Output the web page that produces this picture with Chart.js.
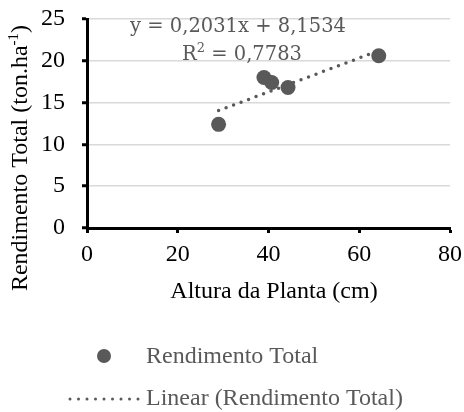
<!DOCTYPE html>
<html>
<head>
<meta charset="utf-8">
<script src="https://cdn.jsdelivr.net/npm/chart.js@4.4.1/dist/chart.umd.min.js"></script>
<style>
    html, body { margin: 0; padding: 0; background: #fff; }
    #wrap { position: relative; width: 464px; height: 412px; }
</style>
</head>
<body>
<div id="wrap"><canvas id="chart" width="464" height="412"></canvas></div>
<script>
// Altura da planta (cm) vs rendimento total (ton/ha)
const alturaPlanta = [29.0, 39.0, 40.7, 44.3, 64.3];
const rendimentoTotal = [12.4, 18.0, 17.4, 16.8, 20.6];
const xTicks = [0, 20, 40, 60, 80];
const yTicks = [0, 5, 10, 15, 20, 25];

// linear trendline as stated in the equation label
const slope = 0.2031;
const intercept = 8.1534;
const rSquared = 0.7783;

const gray = '#595959';
const serif = '"Liberation Serif", "Times New Roman", serif';
const eqFont = '"DejaVu Serif", serif';

const xMin = Math.min(...alturaPlanta);
const xMax = Math.max(...alturaPlanta);
const trendData = [xMin, xMax].map(x => ({ x: x, y: slope * x + intercept }));

const fmt = (v, d) => v.toFixed(d).replace('.', ',');

// draws a run of [text, size, rise] pieces centred on cx
function drawRuns(ctx, runs, family, cx, y) {
    const widths = runs.map(([t, size]) => {
        ctx.font = size + 'px ' + family;
        return ctx.measureText(t).width;
    });
    let x = cx - widths.reduce((a, b) => a + b, 0) / 2;
    ctx.textAlign = 'left';
    runs.forEach(([t, size, rise], i) => {
        ctx.font = size + 'px ' + family;
        ctx.fillText(t, x, y - rise);
        x += widths[i];
    });
}

// axis titles, equation and legend drawn on top of the chart
const decorations = {
    id: 'decorations',
    afterDraw(chart) {
        const ctx = chart.ctx;
        ctx.save();
        ctx.textBaseline = 'alphabetic';

        // trendline equation
        ctx.fillStyle = gray;
        drawRuns(ctx, [['y = ' + fmt(slope, 4) + 'x + ' + fmt(intercept, 4), 19.5, 0]], eqFont, 238, 32);
        drawRuns(ctx, [['R', 19.5, 0], ['2', 13, 8], [' = ' + fmt(rSquared, 4), 19.5, 0]], eqFont, 242, 60);

        // x axis title
        ctx.fillStyle = '#000';
        drawRuns(ctx, [['Altura da Planta (cm)', 24, 0]], serif, 274, 298);

        // y axis title with superscript
        ctx.save();
        ctx.translate(27, 158);
        ctx.rotate(-Math.PI / 2);
        drawRuns(ctx, [['Rendimento Total (ton.ha', 24, 0], ['-1', 15, 9], [')', 24, 0]], serif, 0, 0);
        ctx.restore();

        // legend
        ctx.fillStyle = gray;
        ctx.beginPath();
        ctx.arc(104, 356, 7, 0, Math.PI * 2);
        ctx.fill();

        ctx.strokeStyle = gray;
        ctx.lineWidth = 3;
        ctx.lineCap = 'round';
        ctx.setLineDash([0, 8.5]);
        ctx.beginPath();
        ctx.moveTo(70, 399);
        ctx.lineTo(139, 399);
        ctx.stroke();
        ctx.setLineDash([]);

        ctx.font = '24px ' + serif;
        ctx.textAlign = 'left';
        ctx.textBaseline = 'middle';
        ctx.fillText('Rendimento Total', 146, 357);
        ctx.fillText('Linear (Rendimento Total)', 146, 399);

        ctx.restore();
    }
};

new Chart(document.getElementById('chart'), {
    type: 'scatter',
    data: {
        datasets: [
            {
                label: 'Rendimento Total',
                data: alturaPlanta.map((x, i) => ({ x: x, y: rendimentoTotal[i] })),
                backgroundColor: gray,
                borderWidth: 0,
                pointRadius: 7.5,
                order: 2
            },
            {
                label: 'Linear (Rendimento Total)',
                type: 'line',
                data: trendData,
                borderColor: gray,
                borderWidth: 3.5,
                borderDash: [0, 8],
                borderCapStyle: 'round',
                pointRadius: 0,
                fill: false,
                order: 1
            }
        ]
    },
    options: {
        responsive: false,
        animation: false,
        layout: { padding: { left: 0, right: 14, top: 19, bottom: 0 } },
        plugins: {
            legend: { display: false },
            tooltip: { enabled: false }
        },
        scales: {
            x: {
                type: 'linear',
                min: 0,
                max: 80,
                afterBuildTicks: s => { s.ticks = xTicks.map(v => ({ value: v })); },
                afterFit: s => {
                    s.height = 184;
                    s.paddingLeft = 0;
                    s.paddingRight = 0;
                },
                grid: {
                    drawOnChartArea: false,
                    tickColor: '#000',
                    tickWidth: 3,
                    tickLength: 5
                },
                border: { color: '#000', width: 3 },
                ticks: {
                    color: '#000',
                    font: { family: serif, size: 24 },
                    padding: 7,
                    maxRotation: 0
                }
            },
            y: {
                min: 0,
                max: 25,
                afterBuildTicks: s => { s.ticks = yTicks.map(v => ({ value: v })); },
                afterFit: s => {
                    s.width = 87;
                    s.paddingTop = 0;
                    s.paddingBottom = 0;
                },
                grid: {
                    color: '#d9d9d9',
                    lineWidth: 1.5,
                    tickColor: '#000',
                    tickWidth: 3,
                    tickLength: 5
                },
                border: { color: '#000', width: 3 },
                ticks: {
                    color: '#000',
                    font: { family: serif, size: 24 },
                    padding: 17
                }
            }
        }
    },
    plugins: [decorations]
});
</script>
</body>
</html>
